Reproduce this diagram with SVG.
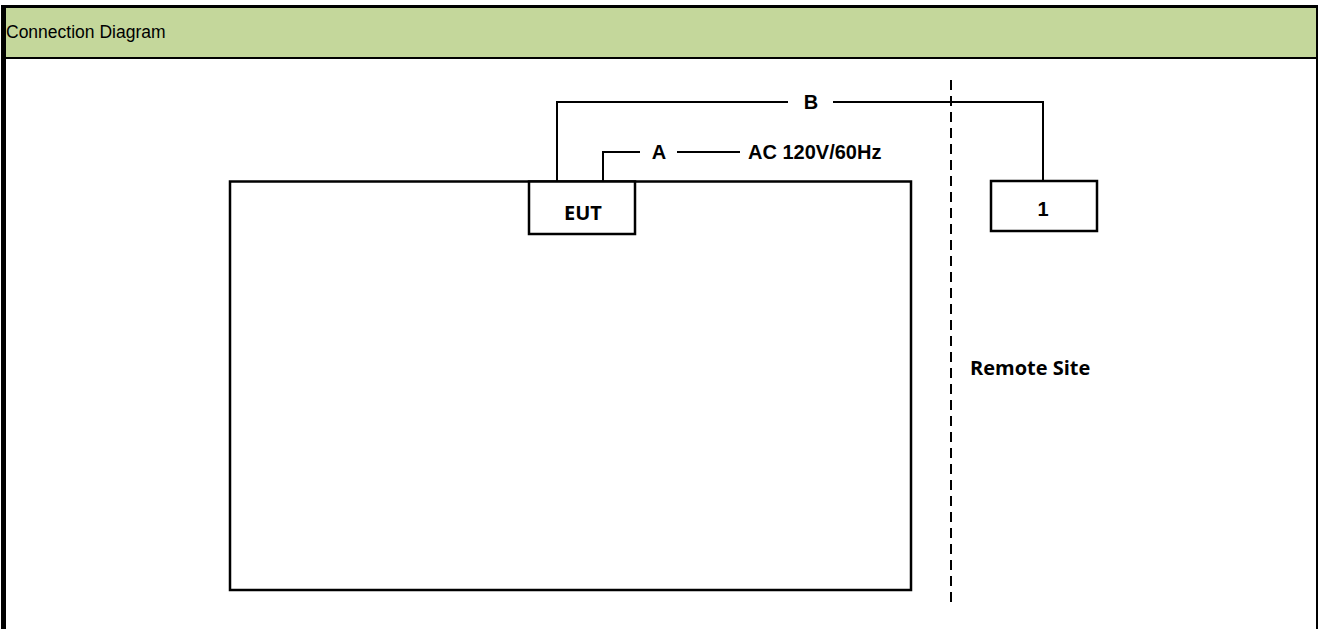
<svg xmlns="http://www.w3.org/2000/svg" width="1318" height="629" viewBox="0 0 1318 629">
<style>
.ln{fill:none;stroke:#000;stroke-width:2}
.box{fill:#fff;stroke:#000;stroke-width:2.5}
.lbl{font-family:"Liberation Sans",Arial,sans-serif;font-weight:bold;font-size:20px;fill:#000}
.seg{font-family:"Open Sans","Noto Sans",sans-serif;font-weight:bold;font-size:20px;fill:#000}
</style>
<rect x="0" y="0" width="1318" height="629" fill="#fff"/>
<g id="header">
<rect x="3" y="6.5" width="1314" height="51" fill="#C4D79B"/>
<text x="6" y="38" font-family="Liberation Sans, Arial, sans-serif" font-size="17.5" fill="#000">Connection Diagram</text>
</g>
<g id="frame">
<line x1="3.5" y1="5" x2="3.5" y2="629" stroke="#000" stroke-width="5"/>
<line x1="1" y1="6.5" x2="1318" y2="6.5" stroke="#000" stroke-width="3"/>
<line x1="1" y1="58" x2="1318" y2="58" stroke="#000" stroke-width="2"/>
<line x1="1317" y1="5" x2="1317" y2="629" stroke="#000" stroke-width="2"/>
</g>
<g id="room">
<rect x="230" y="181.5" width="681" height="408.5" class="box"/>
</g>
<g id="connectors">
<path class="ln" d="M557,181 V102 H788 M833,102 H1043 V181"/>
<path class="ln" d="M603,181 V152 H640 M677,152 H740"/>
<line x1="951" y1="80" x2="951" y2="607" stroke="#000" stroke-width="2" stroke-dasharray="10,6"/>
<text x="811" y="109" text-anchor="middle" class="lbl">B</text>
<text x="659" y="159" text-anchor="middle" class="lbl">A</text>
<text x="748" y="159" class="lbl" fill="#222">AC 120V/60Hz</text>
</g>
<g id="eut">
<rect x="529" y="181.5" width="106" height="52.5" class="box"/>
<text x="583" y="220" text-anchor="middle" class="seg">EUT</text>
</g>
<g id="device1">
<rect x="991" y="181" width="106" height="50" class="box"/>
<text x="1043" y="216" text-anchor="middle" class="lbl">1</text>
</g>
<g id="remote">
<text x="970" y="375" class="seg">Remote Site</text>
</g>
</svg>
